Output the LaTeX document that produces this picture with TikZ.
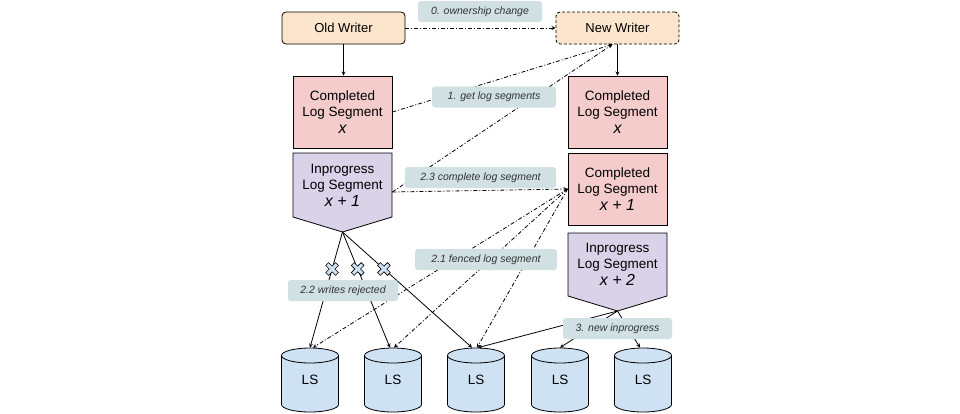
\documentclass[tikz,border=0pt]{standalone}
\usepackage{fontspec}
\setmainfont{Liberation Sans}
\usetikzlibrary{calc}

\definecolor{writerfill}{HTML}{FCE5CD}
\definecolor{donefill}{HTML}{F4CCCC}
\definecolor{progfill}{HTML}{D9D2E9}
\definecolor{notefill}{HTML}{D0E0E3}
\definecolor{lsfill}{HTML}{CFE2F3}
\definecolor{notetext}{HTML}{333333}

\newcommand{\segno}[1]{{\fontsize{16}{18}\selectfont\itshape #1}}

\tikzset{
  writer/.style={draw, fill=writerfill, rounded corners=4pt, line width=0.8pt,
    minimum width=123pt, minimum height=32pt, inner sep=0pt,
    font=\fontsize{13}{15}\selectfont},
  segbox/.style={minimum width=99pt, inner sep=0pt, align=center,
    font=\fontsize{13.5}{16}\selectfont},
  note/.style={fill=notefill, rounded corners=3pt, minimum height=21pt, inner sep=0pt,
    text=notetext, font=\fontsize{10.5}{12}\selectfont\itshape},
  dashdot/.style={dash pattern=on 4pt off 2pt on 1pt off 2pt},
  lsbox/.style={minimum width=57pt, minimum height=64pt, inner sep=0pt,
    font=\fontsize{13.5}{15}\selectfont},
  lscan/.pic={
    \draw[fill=lsfill, line width=0.8pt] (-28.5,-24.5) -- (-28.5,24.5)
      arc[start angle=180, end angle=0, x radius=28.5, y radius=7.5] -- (28.5,-24.5)
      arc[start angle=0, end angle=-180, x radius=28.5, y radius=7.5] -- cycle;
    \draw[line width=0.8pt] (-28.5,-24.5) arc[start angle=180, end angle=0, x radius=28.5, y radius=7.5];
  },
  xmark/.pic={
    \draw[fill=lsfill, line width=0.6pt, rotate=45] (2,7) -- (2,2) -- (7,2) -- (7,-2) -- (2,-2)
      -- (2,-7) -- (-2,-7) -- (-2,-2) -- (-7,-2) -- (-7,2) -- (-2,2) -- (-2,7) -- cycle;
  }
}

\begin{document}
\begin{tikzpicture}[x=1pt, y=-1pt, line width=0.8pt, >=stealth]
\useasboundingbox[fill=white] (0,0) rectangle (960,413);

% writers
\node[writer] (ow) at (343.5,28) {Old Writer};
\node[writer, dash pattern=on 3pt off 2pt] (nw) at (617.5,28) {New Writer};

% old writer segments
\draw[fill=donefill] (293,76) rectangle (392,148);
\node[segbox, minimum height=72pt] (cxl) at (342.5,112) {Completed\\Log Segment\\[1pt]\segno{x}};
\coordinate (ipltip) at (342.5,232);
\draw[fill=progfill] (293,153) -- (392,153) -- (392,217) -- (ipltip) -- (293,217) -- cycle;
\node[segbox, minimum height=64pt] (ipl) at (342.5,185) {Inprogress\\Log Segment\\[1pt]\segno{x + 1}};

% new writer segments
\draw[fill=donefill] (568,76) rectangle (667,148);
\node[segbox, minimum height=72pt] (cxr) at (617.5,112) {Completed\\Log Segment\\[1pt]\segno{x}};
\draw[fill=donefill] (568,153) rectangle (667,225);
\node[segbox, minimum height=72pt] (cxr1) at (617.5,189) {Completed\\Log Segment\\[1pt]\segno{x + 1}};
\coordinate (iprtip) at (617.5,311);
\draw[fill=progfill] (568,233) -- (667,233) -- (667,296) -- (iprtip) -- (568,296) -- cycle;
\node[segbox, minimum height=63pt] (ipr) at (617.5,264.5) {Inprogress\\Log Segment\\[1pt]\segno{x + 2}};

% log segment stores
\pic at (310,380) {lscan};
\node[lsbox] (ls1) at (310,380) {LS};
\pic at (393,380) {lscan};
\node[lsbox] (ls2) at (393,380) {LS};
\pic at (476,380) {lscan};
\node[lsbox] (ls3) at (476,380) {LS};
\pic at (560,380) {lscan};
\node[lsbox] (ls4) at (560,380) {LS};
\pic at (643,380) {lscan};
\node[lsbox] (ls5) at (643,380) {LS};

% solid arrows
\draw[->] (ow) -- (ow |- cxl.north);
\draw[->] (nw) -- (cxr);
\draw[->] (ipltip) -- (ls1.north);
\draw[->] (ipltip) -- ([xshift=-3pt]ls2.north);
\draw[->] (ipltip) -- ([xshift=-4pt]ls3.north);
\draw[->] (iprtip) -- ([xshift=2pt]ls3.north);
\draw[->] (iprtip) -- (ls4.north);
\draw[->] (iprtip) -- ([xshift=-3pt]ls5.north);

% dash-dot arrows
\draw[->, dashdot] (ow) -- (nw);
\draw[->, dashdot] (cxl.east) -- ([xshift=-5pt]nw.south);
\draw[->, dashdot] ($(ipl.east)+(0,7)$) -- ([xshift=-5pt]nw.south);
\draw[->, dashdot] ($(ipl.east)+(0,7)$) -- (cxr1.west);
\draw[->, dashdot] (cxr1.west) -- ([xshift=3pt]ls1.north);
\draw[->, dashdot] (cxr1.west) -- ([xshift=1pt]ls2.north);
\draw[->, dashdot] (cxr1.west) -- ([xshift=1pt]ls3.north);

% rejected writes
\pic at ($(ipltip)!0.32!(ls1.north)$) {xmark};
\pic at ($(ipltip)!0.32!([xshift=-3pt]ls2.north)$) {xmark};
\pic at ($(ipltip)!0.32!([xshift=-4pt]ls3.north)$) {xmark};

% step notes
\node[note, minimum width=124pt] (n0) at (480,11.5) {0. ownership change};
\node[note, minimum width=124pt] (n1) at (494,97) {1. get log segments};
\node[note, minimum width=151pt] (n23) at (480.5,177.5) {2.3 complete log segment};
\node[note, minimum width=142pt] (n21) at (486,259.5) {2.1 fenced log segment};
\node[note, minimum width=110pt] (n22) at (343,290.5) {2.2 writes rejected};
\node[note, minimum width=109pt] (n3) at (617.5,328.5) {3. new inprogress};
\end{tikzpicture}
\end{document}
